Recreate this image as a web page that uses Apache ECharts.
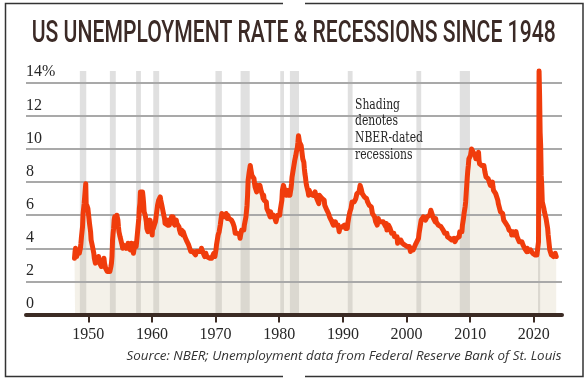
<!DOCTYPE html>
<html><head><meta charset="utf-8">
<script src="https://cdn.jsdelivr.net/npm/echarts@6/dist/echarts.min.js"></script>
<style>html,body{margin:0;padding:0;background:#fff}#c{width:587px;height:380px}</style>
</head><body><div id="c"></div>
<script>
// ---- DATA (monthly US unemployment rate, %) ----
const rate1948to1949 = [
3.4,3.8,4.0,3.9,3.5,3.6,3.6,3.9,3.8,3.7,3.8,4.0,
4.3,4.7,5.0,5.3,6.1,6.2,6.7,6.8,6.6,7.9,6.4,6.6];
const rate1950s = [
6.5,6.4,6.3,5.8,5.5,5.4,5.0,4.5,4.4,4.2,4.2,4.3,
3.7,3.4,3.4,3.1,3.0,3.2,3.1,3.1,3.3,3.5,3.5,3.1,
3.2,3.1,2.9,2.9,3.0,3.0,3.2,3.4,3.1,3.0,2.8,2.7,
2.9,2.6,2.6,2.7,2.5,2.5,2.6,2.7,2.9,3.1,3.5,4.5,
4.9,5.2,5.7,5.9,5.9,5.6,5.8,6.0,6.1,5.7,5.3,5.0,
4.9,4.7,4.6,4.7,4.3,4.2,4.0,4.2,4.1,4.3,4.2,4.2,
4.0,3.9,4.2,4.0,4.3,4.3,4.4,4.1,3.9,3.9,4.3,4.2,
4.2,3.9,3.7,3.9,4.1,4.3,4.2,4.1,4.4,4.5,5.1,5.2,
5.8,6.4,6.7,7.4,7.4,7.3,7.5,7.4,7.1,6.7,6.2,6.2,
6.0,5.9,5.6,5.2,5.1,5.0,5.1,5.2,5.5,5.7,5.8,5.3];
const rate1960s = [
5.2,4.8,5.4,5.2,5.1,5.4,5.5,5.6,5.5,6.1,6.1,6.6,
6.6,6.9,6.9,7.0,7.1,6.9,7.0,6.6,6.7,6.5,6.1,6.0,
5.8,5.5,5.6,5.6,5.5,5.5,5.4,5.7,5.6,5.4,5.7,5.5,
5.7,5.9,5.7,5.7,5.9,5.6,5.6,5.4,5.5,5.5,5.7,5.5,
5.6,5.4,5.4,5.3,5.1,5.2,4.9,5.0,5.1,5.1,4.8,5.0,
4.9,5.1,4.7,4.8,4.6,4.6,4.4,4.4,4.3,4.2,4.1,4.0,
4.0,3.8,3.8,3.8,3.9,3.8,3.8,3.8,3.7,3.7,3.6,3.8,
3.9,3.8,3.8,3.8,3.8,3.9,3.8,3.8,3.8,4.0,3.9,3.8,
3.7,3.8,3.7,3.5,3.5,3.7,3.7,3.5,3.4,3.4,3.4,3.4,
3.4,3.4,3.4,3.4,3.4,3.5,3.5,3.5,3.7,3.7,3.5,3.5];
const rate1970s = [
3.9,4.2,4.4,4.6,4.8,4.9,5.0,5.1,5.4,5.5,5.9,6.1,
5.9,5.9,6.0,5.9,5.9,5.9,6.0,6.1,6.0,5.8,6.0,6.0,
5.8,5.7,5.8,5.7,5.7,5.7,5.6,5.6,5.5,5.6,5.3,5.2,
4.9,5.0,4.9,5.0,4.9,4.9,4.8,4.8,4.8,4.6,4.8,4.9,
5.1,5.2,5.1,5.1,5.1,5.4,5.5,5.5,5.9,6.0,6.6,7.2,
8.1,8.1,8.6,8.8,9.0,8.8,8.6,8.4,8.4,8.4,8.3,8.2,
7.9,7.7,7.6,7.7,7.4,7.6,7.8,7.8,7.6,7.7,7.8,7.8,
7.5,7.6,7.4,7.2,7.0,7.2,6.9,7.0,6.8,6.8,6.8,6.4,
6.4,6.3,6.3,6.1,6.0,5.9,6.2,5.9,6.0,5.8,5.9,6.0,
5.9,5.9,5.8,5.8,5.6,5.7,5.7,6.0,5.9,6.0,5.9,6.0];
const rate1980s = [
6.3,6.3,6.3,6.9,7.5,7.6,7.8,7.7,7.5,7.5,7.5,7.2,
7.5,7.4,7.4,7.2,7.5,7.5,7.2,7.4,7.6,7.9,8.3,8.5,
8.6,8.9,9.0,9.3,9.4,9.6,9.8,9.8,10.1,10.4,10.8,10.8,
10.4,10.4,10.3,10.2,10.1,10.1,9.4,9.5,9.2,8.8,8.5,8.3,
8.0,7.8,7.8,7.7,7.4,7.2,7.5,7.5,7.3,7.4,7.2,7.3,
7.3,7.2,7.2,7.3,7.2,7.4,7.4,7.1,7.1,7.1,7.0,7.0,
6.7,7.2,7.2,7.1,7.2,7.2,7.0,6.9,7.0,7.0,6.9,6.6,
6.6,6.6,6.6,6.3,6.3,6.2,6.1,6.0,5.9,6.0,5.8,5.7,
5.7,5.7,5.7,5.4,5.6,5.4,5.4,5.6,5.4,5.4,5.3,5.3,
5.4,5.2,5.0,5.2,5.2,5.3,5.2,5.2,5.3,5.3,5.4,5.4];
const rate1990s = [
5.4,5.3,5.2,5.4,5.4,5.2,5.5,5.7,5.9,5.9,6.2,6.3,
6.4,6.6,6.8,6.7,6.9,6.9,6.8,6.9,6.9,7.0,7.0,7.3,
7.3,7.4,7.4,7.4,7.6,7.8,7.7,7.6,7.6,7.3,7.4,7.4,
7.3,7.1,7.0,7.1,7.1,7.0,6.9,6.8,6.7,6.8,6.6,6.5,
6.6,6.6,6.5,6.4,6.1,6.1,6.1,6.0,5.9,5.8,5.6,5.5,
5.6,5.4,5.4,5.8,5.6,5.6,5.7,5.7,5.6,5.5,5.6,5.6,
5.6,5.5,5.5,5.6,5.6,5.3,5.5,5.1,5.2,5.2,5.4,5.4,
5.3,5.2,5.2,5.1,4.9,5.0,4.9,4.8,4.9,4.7,4.6,4.7,
4.6,4.6,4.7,4.3,4.4,4.5,4.5,4.5,4.6,4.5,4.4,4.4,
4.3,4.4,4.2,4.3,4.2,4.3,4.3,4.2,4.2,4.1,4.1,4.0];
const rate2000s = [
4.0,4.1,4.0,3.8,4.0,4.0,4.0,4.1,3.9,3.9,3.9,3.9,
4.2,4.2,4.3,4.4,4.3,4.5,4.6,4.9,5.0,5.3,5.5,5.7,
5.7,5.7,5.7,5.9,5.8,5.8,5.8,5.7,5.7,5.7,5.9,6.0,
5.8,5.9,5.9,6.0,6.1,6.3,6.2,6.1,6.1,6.0,5.8,5.7,
5.7,5.6,5.8,5.6,5.6,5.6,5.5,5.4,5.4,5.5,5.4,5.4,
5.3,5.4,5.2,5.2,5.1,5.0,5.0,4.9,5.0,5.0,5.0,4.9,
4.7,4.8,4.7,4.7,4.6,4.6,4.7,4.7,4.5,4.4,4.5,4.4,
4.6,4.5,4.4,4.5,4.4,4.6,4.7,4.6,4.7,4.7,4.7,5.0,
5.0,4.9,5.1,5.0,5.4,5.6,5.8,6.1,6.1,6.5,6.8,7.3,
7.8,8.3,8.7,9.0,9.4,9.5,9.5,9.6,9.8,10.0,9.9,9.9];
const rate2010s = [
9.8,9.8,9.9,9.9,9.6,9.4,9.4,9.5,9.5,9.4,9.8,9.3,
9.1,9.0,9.0,9.1,9.0,9.1,9.0,9.0,9.0,8.8,8.6,8.5,
8.3,8.3,8.2,8.2,8.2,8.2,8.2,8.1,7.8,7.8,7.7,7.9,
8.0,7.7,7.5,7.6,7.5,7.5,7.3,7.2,7.2,7.2,6.9,6.7,
6.6,6.7,6.7,6.2,6.3,6.1,6.2,6.1,5.9,5.7,5.8,5.6,
5.7,5.5,5.4,5.4,5.6,5.3,5.2,5.1,5.0,5.0,5.1,5.0,
4.8,4.9,5.0,5.1,4.8,4.9,4.8,4.9,5.0,4.9,4.7,4.7,
4.7,4.6,4.4,4.4,4.4,4.3,4.3,4.4,4.3,4.2,4.2,4.1,
4.0,4.1,4.0,4.0,3.8,4.0,3.8,3.8,3.7,3.8,3.8,3.9,
4.0,3.8,3.8,3.7,3.6,3.6,3.7,3.6,3.5,3.6,3.6,3.6];
const rate2020s = [
3.5,3.5,4.4,14.7,13.2,11.0,10.2,8.4,7.8,6.8,6.7,6.7,
6.4,6.2,6.1,6.1,5.8,5.9,5.4,5.2,4.8,4.5,4.2,3.9,
4.0,3.8,3.6,3.7,3.6,3.6,3.5,3.6,3.5,3.7,3.6,3.5];
const blockStartYears = [1948, 1950, 1960, 1970, 1980, 1990, 2000, 2010, 2020];
const blockValues = [rate1948to1949, rate1950s, rate1960s, rate1970s, rate1980s, rate1990s, rate2000s, rate2010s, rate2020s];

// NBER recessions (start, end) in decimal years
const recessionStart = [1948.83, 1953.50, 1957.58, 1960.25, 1969.92, 1973.83, 1980.00, 1981.50, 1990.50, 2001.17, 2007.92, 2020.08];
const recessionEnd   = [1949.83, 1954.42, 1958.33, 1961.17, 1970.92, 1975.25, 1980.58, 1982.92, 1991.25, 2001.92, 2009.50, 2020.42];

const xTickYears = [1950, 1960, 1970, 1980, 1990, 2000, 2010, 2020];
const yMaxValue = 14.7;

const titleText = 'US UNEMPLOYMENT RATE & RECESSIONS SINCE 1948';
const noteText = 'Shading\ndenotes\nNBER-dated\nrecessions';
const sourceText = 'Source: NBER; Unemployment data from Federal Reserve Bank of St. Louis';

// ---- build ----
const points = [];
blockStartYears.forEach((y0, b) => blockValues[b].forEach((v, i) => points.push([y0 + i / 12, v])));
const bands = recessionStart.map((s, i) => [{xAxis: s, yAxis: 0}, {xAxis: recessionEnd[i], yAxis: yMaxValue}]);

const ctx = document.createElement('canvas').getContext('2d');
function fit(text, font, target) { ctx.font = font; return target / ctx.measureText(text).width; }

const titleFamily = 'Roboto, sans-serif';
const titleFont = {fontFamily: titleFamily, fontWeight: 500, fontSize: 30.5};
const titleScale = fit(titleText, '500 30.5px ' + titleFamily, 524);
const noteFont = {fontFamily: 'DejaVu Serif', fontSize: 15.5};
const noteScale = fit('NBER-dated', '15.5px "DejaVu Serif"', 68);
const srcScale = fit(sourceText, 'italic 11.8px "Open Sans"', 435);

const tickFont = {fontFamily: 'Liberation Serif', fontSize: 16, color: '#262626'};
const axisColor = '#3b2b24';

const chart = echarts.init(document.getElementById('c'), null, {renderer: 'canvas'});
chart.setOption({
  animation: false,
  backgroundColor: '#ffffff',
  grid: {left: 26, right: 25, top: 71.1, bottom: 65.5, containLabel: false},
  xAxis: [
    {type: 'value', min: 1940.457, max: 2023.817, show: false},
    {type: 'value', position: 'bottom', min: 1940.21, max: 2024.43, z: 4,
     axisLine: {show: true, onZero: false, lineStyle: {color: axisColor, width: 4}},
     axisTick: {show: true, customValues: xTickYears, length: 8, lineStyle: {color: axisColor, width: 2}},
     axisLabel: Object.assign({customValues: xTickYears, margin: 12, formatter: v => String(v)}, tickFont),
     splitLine: {show: false}}
  ],
  yAxis: {type: 'value', min: 0, max: yMaxValue, interval: 2, z: 3,
    axisLine: {show: false}, axisTick: {show: false},
    splitLine: {show: true, showMinLine: false, showMaxLine: false, lineStyle: {color: '#a9a9a9', width: 1.8}},
    axisLabel: Object.assign({inside: true, margin: 0, verticalAlign: 'bottom', lineHeight: 16, padding: [0, 0, 2.5, 0],
      showMaxLabel: false,
      formatter: v => v === 14 ? '14%' : (v % 2 === 0 ? String(v) : '')}, tickFont)
  },
  series: [
    {type: 'line', xAxisIndex: 0, data: points, showSymbol: false, silent: true, z: 1,
     lineStyle: {width: 0, opacity: 0},
     areaStyle: {color: 'rgba(205,188,150,0.3)', origin: 'start'},
     markArea: {silent: true, itemStyle: {color: '#e0e0e0'}, data: bands}},
    {type: 'line', xAxisIndex: 0, data: points, showSymbol: false, silent: true, z: 5, clip: false,
     lineStyle: {color: '#f03c0c', width: 5, join: 'round', cap: 'round'}}
  ],
  graphic: [
    {type: 'polyline', silent: true, shape: {points: [[283, 3.5], [5.5, 3.5], [5.5, 376.5], [283, 376.5]]},
     style: {stroke: '#333', lineWidth: 1.5, fill: null}},
    {type: 'polyline', silent: true, shape: {points: [[305, 3.5], [583, 3.5], [583, 376.5], [305, 376.5]]},
     style: {stroke: '#333', lineWidth: 1.5, fill: null}},
    {type: 'text', silent: true, x: 293.7, y: 34.5, scaleX: titleScale,
     style: Object.assign({text: titleText, fill: '#3b2a26', align: 'center', verticalAlign: 'middle'}, titleFont)},
    {type: 'text', silent: true, x: 355, y: 96.3, scaleX: noteScale, z: 10,
     style: Object.assign({text: noteText, fill: '#262626', align: 'left', verticalAlign: 'top', lineHeight: 16.7}, noteFont)},
    {type: 'text', silent: true, x: 561.5, y: 356.4, scaleX: srcScale,
     style: {text: sourceText, fill: '#333', align: 'right', verticalAlign: 'middle',
             fontFamily: 'Open Sans', fontStyle: 'italic', fontSize: 11.8}}
  ]
});
</script>
</body></html>
